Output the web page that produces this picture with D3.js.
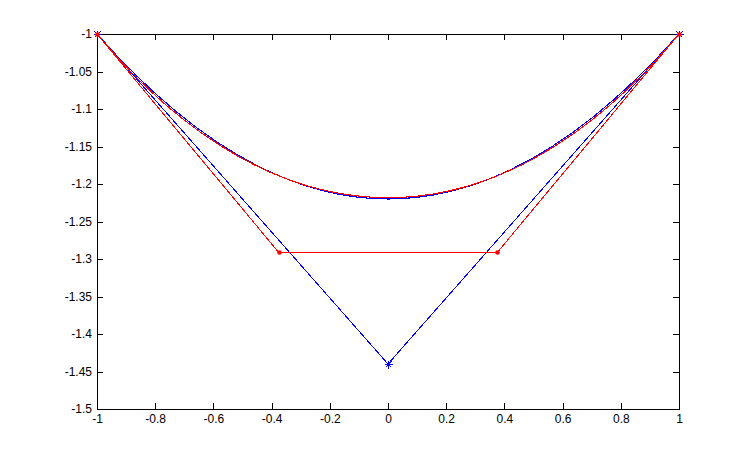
<!DOCTYPE html>
<html><head><meta charset="utf-8">
<script src="https://cdn.jsdelivr.net/npm/d3@7"></script>
<style>body{margin:0;background:#fff}svg{display:block}</style>
</head><body>
<script>
const xTicks = [-1,-0.8,-0.6,-0.4,-0.2,0,0.2,0.4,0.6,0.8,1];
const yTicks = [-1,-1.05,-1.1,-1.15,-1.2,-1.25,-1.3,-1.35,-1.4,-1.45,-1.5];
// quadratic Bezier control points (blue)
const blueX = [-1, 0, 1];
const blueY = [-1, -1.44, -1];
// cubic Bezier control points (red)
const redX = [-1, -0.376, 0.376, 1];
const redY = [-1, -1.291, -1.291, -1];

const W = 749, H = 459;
const m = {l:97, r:679, t:34, b:409};
const svg = d3.select("body").append("svg").attr("width", W).attr("height", H);
const x = d3.scaleLinear().domain([-1,1]).range([m.l, m.r]);
const y = d3.scaleLinear().domain([-1.5,-1]).range([m.b, m.t]);

const tl = 6;
svg.append("g").attr("transform", `translate(0,${m.b})`)
  .call(d3.axisBottom(x).tickValues(xTicks).tickSizeInner(-tl).tickSizeOuter(0).tickPadding(5).tickFormat(d=>String(d)));
svg.append("g").attr("transform", `translate(0,${m.t})`)
  .call(d3.axisTop(x).tickValues(xTicks).tickSizeInner(-tl).tickSizeOuter(0).tickFormat(""));
svg.append("g").attr("transform", `translate(${m.l},0)`)
  .call(d3.axisLeft(y).tickValues(yTicks).tickSizeInner(-tl).tickSizeOuter(0).tickPadding(5).tickFormat(d=>String(d)));
svg.append("g").attr("transform", `translate(${m.r},0)`)
  .call(d3.axisRight(y).tickValues(yTicks).tickSizeInner(-tl).tickSizeOuter(0).tickFormat(""));
svg.selectAll(".domain").attr("stroke","#000").attr("stroke-width",1).attr("shape-rendering","crispEdges");
svg.selectAll(".tick line").attr("stroke","#000").attr("shape-rendering","crispEdges");
svg.selectAll(".tick text").attr("font-family","Liberation Sans, Arial, sans-serif").attr("font-size","12px").attr("fill","#000");

const line = d3.line().x(d=>x(d[0])).y(d=>y(d[1]));
function drawSet(X, Y, color, marker){
  const pts = X.map((v,i)=>[v,Y[i]]);
  svg.append("path").attr("d", line(pts)).attr("fill","none").attr("stroke",color)
    .attr("stroke-width",1).attr("shape-rendering","crispEdges");
  const p = d3.path();
  p.moveTo(x(pts[0][0]), y(pts[0][1]));
  if (pts.length === 3) p.quadraticCurveTo(x(pts[1][0]), y(pts[1][1]), x(pts[2][0]), y(pts[2][1]));
  else p.bezierCurveTo(x(pts[1][0]), y(pts[1][1]), x(pts[2][0]), y(pts[2][1]), x(pts[3][0]), y(pts[3][1]));
  svg.append("path").attr("d", p.toString()).attr("fill","none").attr("stroke",color)
    .attr("stroke-width",1.1).attr("shape-rendering","crispEdges");
  pts.forEach(d=>{
    const cx = Math.round(x(d[0]))+0.5, cy = Math.round(y(d[1]))+0.5;
    if (marker === "star") {
      const s = 4;
      const g = svg.append("g").attr("stroke",color).attr("stroke-width",1).attr("shape-rendering","crispEdges");
      g.append("line").attr("x1",cx-s).attr("x2",cx+s).attr("y1",cy).attr("y2",cy);
      g.append("line").attr("x1",cx).attr("x2",cx).attr("y1",cy-s).attr("y2",cy+s);
      g.append("line").attr("x1",cx-3).attr("x2",cx+3).attr("y1",cy-3).attr("y2",cy+3);
      g.append("line").attr("x1",cx-3).attr("x2",cx+3).attr("y1",cy+3).attr("y2",cy-3);
    } else {
      svg.append("circle").attr("cx",cx).attr("cy",cy).attr("r",2.3).attr("fill",color);
    }
  });
}
drawSet(blueX, blueY, "#0000ff", "star");
drawSet(redX, redY, "#ff0000", "dot");
</script>
</body></html>
